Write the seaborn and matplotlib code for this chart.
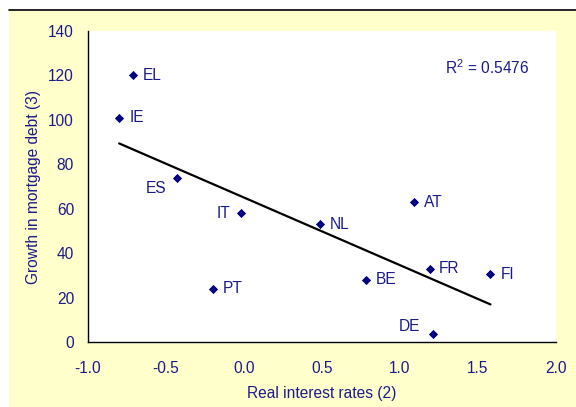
import numpy as np
import pandas as pd
import matplotlib
matplotlib.use("Agg")
import matplotlib.pyplot as plt
from matplotlib.patches import Rectangle
from matplotlib.lines import Line2D
import seaborn as sns

countries = ["EL", "IE", "ES", "IT", "PT", "NL", "AT", "BE", "FR", "FI", "DE"]
real_rates = [-0.71, -0.80, -0.43, -0.02, -0.20, 0.49, 1.09, 0.78, 1.19, 1.58, 1.21]
debt_growth = [120, 101, 74, 58, 24, 53, 63, 28, 33, 30.5, 3.5]
x_ticks = [-1.0, -0.5, 0.0, 0.5, 1.0, 1.5, 2.0]
y_ticks = [0, 20, 40, 60, 80, 100, 120, 140]
r2_text = "R$^2$ = 0.5476"

df = pd.DataFrame({"country": countries, "rate": real_rates, "growth": debt_growth})

sns.set_theme(style="white")
plt.rcParams["font.family"] = ["Liberation Sans Narrow", "Liberation Sans", "DejaVu Sans"]
plt.rcParams["mathtext.fontset"] = "custom"
plt.rcParams["mathtext.rm"] = "Liberation Sans"

NAVY = "#000080"
TXT = "#1a1a8c"
W, H = 576, 407
fig = plt.figure(figsize=(W / 100, H / 100), dpi=100)
fig.patch.set_facecolor("white")
fig.patches.append(Rectangle((9 / W, 0), 1 - 9 / W, (H - 11) / H, transform=fig.transFigure,
                             facecolor="#FFFFCC", edgecolor="none", zorder=-5))
fig.lines.append(Line2D([9 / W, 1], [(H - 10) / H] * 2, transform=fig.transFigure,
                        color="black", lw=1.2, zorder=-4))

ax = fig.add_axes([88 / W, (H - 342) / H, 468 / W, 311 / H])
ax.set_facecolor("white")

sns.regplot(data=df, x="rate", y="growth", ax=ax, ci=None, truncate=True,
            scatter=False, line_kws=dict(color="black", lw=1.6))
sns.scatterplot(data=df, x="rate", y="growth", ax=ax, marker="D", s=22,
                color=NAVY, edgecolor=NAVY, linewidth=0, zorder=3)

offsets = {
    "EL": (10, 0, "left", "center"),
    "IE": (10, 0, "left", "center"),
    "ES": (-10.5, -11, "right", "center"),
    "IT": (-10.5, 0, "right", "center"),
    "PT": (10, 0, "left", "center"),
    "NL": (9.5, 0, "left", "center"),
    "AT": (10, 0, "left", "center"),
    "BE": (10, 0, "left", "center"),
    "FR": (9.5, 0, "left", "center"),
    "FI": (10.5, 0, "left", "center"),
    "DE": (-13, 8, "right", "center"),
}
for c, x, y in zip(countries, real_rates, debt_growth):
    dx, dy, ha, va = offsets[c]
    ax.annotate(c, (x, y), xytext=(dx, dy), textcoords="offset pixels",
                ha=ha, va=va, fontsize=11.2, color=TXT)

ax.text(1.29, 123.5, r2_text, ha="left", va="center", fontsize=11.2, color=TXT)

ax.set_xlim(-1.0, 2.0)
ax.set_ylim(0, 140)
ax.set_xticks(x_ticks)
ax.set_xticklabels([f"{t:.1f}" for t in x_ticks])
ax.set_yticks(y_ticks)
ax.set_yticklabels([str(t) for t in y_ticks])
ax.tick_params(axis="both", length=0, labelsize=11.2, labelcolor=TXT)
ax.tick_params(axis="x", pad=14)
ax.tick_params(axis="y", pad=10)
for s in ["top", "right"]:
    ax.spines[s].set_visible(False)
for s in ["left", "bottom"]:
    ax.spines[s].set_color("black")
    ax.spines[s].set_linewidth(1.0)
ax.set_xlabel("Real interest rates (2)", fontsize=11.2, color=TXT, labelpad=7)
ax.set_ylabel("Growth in mortgage debt (3)", fontsize=11.2, color=TXT, labelpad=5)

fig.savefig("out.png", dpi=100)
